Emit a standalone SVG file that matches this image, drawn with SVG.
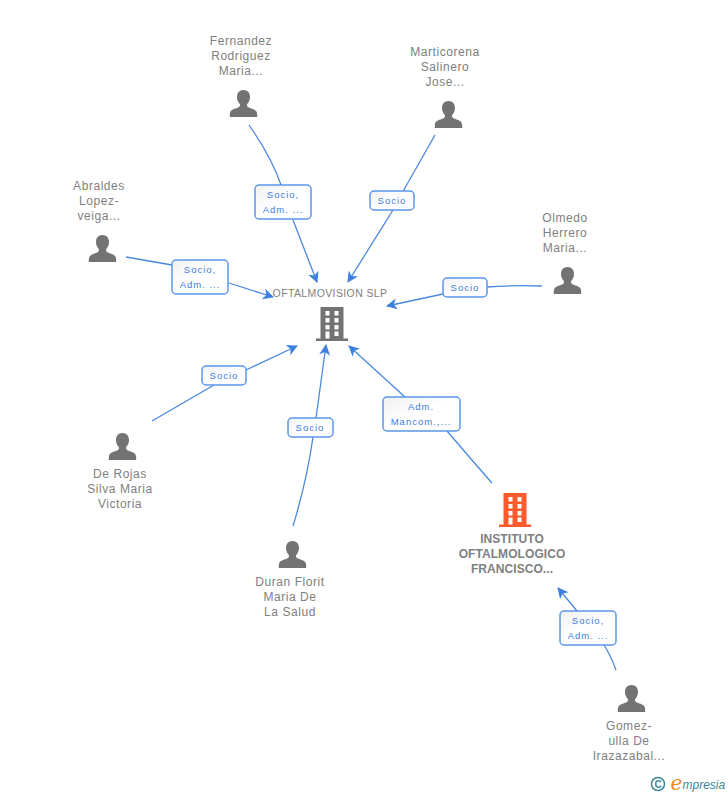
<svg xmlns="http://www.w3.org/2000/svg" width="728" height="795" viewBox="0 0 728 795">
<style>
text{font-family:"Liberation Sans",Arial,sans-serif}
.n{font-size:12px;fill:#808080;text-anchor:middle;letter-spacing:.55px}
.b{font-size:12px;fill:#808080;text-anchor:middle;font-weight:bold;letter-spacing:.07px}
.l{font-size:9.500px;fill:#3b7ddd;text-anchor:middle;letter-spacing:1px}
.c{fill:none;stroke:#4a88e0;stroke-width:1.300}
.box{fill:url(#g);stroke:#5b97ea;stroke-width:1.500}
.p{fill:#737373}
</style>
<defs>
<linearGradient id="g" x1="0" y1="0" x2="1" y2="1"><stop offset="0" stop-color="#f1f1f1"/><stop offset=".5" stop-color="#fff"/></linearGradient>
<marker id="a" markerUnits="userSpaceOnUse" markerWidth="12" markerHeight="12" refX="10" refY="5.500" orient="auto"><path d="M0 0L11 5.500L0 11L3 5.500Z" fill="#3d80e0"/></marker>
<path id="person" d="M0-14c-4.300 0-6.500 3.200-6.500 7 0 3 1.200 5.500 3 7.200 0 1.800-.5 2.800-2 3.400-3 1.200-7.500 2.100-8 5.400-.200 1.300-.200 3-.200 4h27.400c0-1-0-2.700-.200-4-.500-3.300-5-4.200-8-5.400-1.500-.600-2-1.600-2-3.400 1.800-1.700 3-4.200 3-7.200 0-3.800-2.200-7-6.500-7z"/>
<g id="bld"><path d="M-16 15.500h32v2.500h-32zM-11.500-16h23v32h-23z"/><path fill="#fff" d="M-6.500-12h4v4.500h-4zM2.500-12h4v4.500h-4zM-6.500-5h4v4.500h-4zM2.500-5h4v4.500h-4zM-6.500 2h4v4.500h-4zM2.500 2h4v4.500h-4zM-6.500 8.500h4v7h-4zM2.500 8.500h4v4.500h-4z"/></g>
</defs>
<g id="connectors">
<path class="c" d="M249 125Q272 158 281 185"/><path class="c" marker-end="url(#a)" d="M293 220L317 282"/>
<path class="c" d="M435 135L393 209"/><path class="c" marker-end="url(#a)" d="M393 210L348 282"/>
<path class="c" d="M126 257L172 265"/><path class="c" marker-end="url(#a)" d="M229 283L273 297"/>
<path class="c" d="M542 286Q510 285 487 287"/><path class="c" marker-end="url(#a)" d="M443 294L387 306"/>
<path class="c" d="M152 421L214 385"/><path class="c" marker-end="url(#a)" d="M246 370L297 346"/>
<path class="c" d="M293 526Q307 480 313 437"/><path class="c" marker-end="url(#a)" d="M316 418L326 345"/>
<path class="c" d="M492 483Q470 458 447 431"/><path class="c" marker-end="url(#a)" d="M405 397L349 346"/>
<path class="c" d="M616 670Q610 654 604 645"/><path class="c" marker-end="url(#a)" d="M577 611L558 588"/>
</g>
<g id="edge-labels">
<g><rect class="box" x="255" y="185" width="56" height="34" rx="4"/><text class="l" x="283" y="198">Socio,</text><text class="l" x="283" y="213">Adm. ...</text></g>
<g><rect class="box" x="370" y="191" width="44" height="19" rx="4"/><text class="l" x="392" y="204">Socio</text></g>
<g><rect class="box" x="172" y="260" width="56" height="34" rx="4"/><text class="l" x="200" y="273">Socio,</text><text class="l" x="200" y="288">Adm. ...</text></g>
<g><rect class="box" x="443" y="278" width="44" height="19" rx="4"/><text class="l" x="465" y="291">Socio</text></g>
<g><rect class="box" x="202" y="366" width="44" height="19" rx="4"/><text class="l" x="224" y="379">Socio</text></g>
<g><rect class="box" x="288" y="418" width="45" height="19" rx="4"/><text class="l" x="310" y="431">Socio</text></g>
<g><rect class="box" x="383" y="397" width="77" height="34" rx="4"/><text class="l" x="421" y="410">Adm.</text><text class="l" x="421" y="425">Mancom.,...</text></g>
<g><rect class="box" x="560" y="611" width="56" height="34" rx="4"/><text class="l" x="588" y="624">Socio,</text><text class="l" x="588" y="639">Adm. ...</text></g>
</g>
<g id="node-oftalmovision"><text x="330" y="297" text-anchor="middle" style="font-size:10.500px;fill:#808080;letter-spacing:.38px">OFTALMOVISION SLP</text><use href="#bld" x="332" y="323" fill="#737373"/></g>
<g id="node-instituto"><use href="#bld" x="515" y="509" fill="#ff5a2b"/><text class="b" x="512" y="543">INSTITUTO</text><text class="b" x="512" y="558">OFTALMOLOGICO</text><text class="b" x="512" y="573">FRANCISCO...</text></g>
<g id="node-fernandez"><text class="n" x="241" y="45">Fernandez</text><text class="n" x="241" y="60">Rodriguez</text><text class="n" x="241" y="75">Maria...</text><use class="p" href="#person" x="243.500" y="104"/></g>
<g id="node-marticorena"><text class="n" x="445" y="56">Marticorena</text><text class="n" x="445" y="71">Salinero</text><text class="n" x="445" y="86">Jose...</text><use class="p" href="#person" x="448.500" y="115"/></g>
<g id="node-abraldes"><text class="n" x="99" y="190">Abraldes</text><text class="n" x="99" y="205">Lopez-</text><text class="n" x="99" y="220">veiga...</text><use class="p" href="#person" x="102.500" y="249"/></g>
<g id="node-olmedo"><text class="n" x="565" y="222">Olmedo</text><text class="n" x="565" y="237">Herrero</text><text class="n" x="565" y="252">Maria...</text><use class="p" href="#person" x="567.500" y="281"/></g>
<g id="node-derojas"><use class="p" href="#person" x="122.500" y="447"/><text class="n" x="120" y="478">De Rojas</text><text class="n" x="120" y="493">Silva Maria</text><text class="n" x="120" y="508">Victoria</text></g>
<g id="node-duran"><use class="p" href="#person" x="292.500" y="555"/><text class="n" x="290" y="586">Duran Florit</text><text class="n" x="290" y="601">Maria De</text><text class="n" x="290" y="616">La Salud</text></g>
<g id="node-gomez"><use class="p" href="#person" x="631.500" y="699"/><text class="n" x="629" y="730">Gomez-</text><text class="n" x="629" y="745">ulla De</text><text class="n" x="629" y="760">Irazazabal...</text></g>
<g id="credit"><circle cx="658" cy="784" r="6.500" fill="none" stroke="#3f8796" stroke-width="1.500"/><text x="658" y="787.500" text-anchor="middle" style="font-size:10px;font-weight:bold;fill:#3f8796">C</text><text x="670.500" y="790" style="font-family:'DejaVu Serif',serif;font-style:italic;font-size:20px;fill:#f08a1d">e</text><text x="682.500" y="789" style="font-size:12px;font-style:italic;fill:#3f8796">mpresia</text></g>
</svg>
